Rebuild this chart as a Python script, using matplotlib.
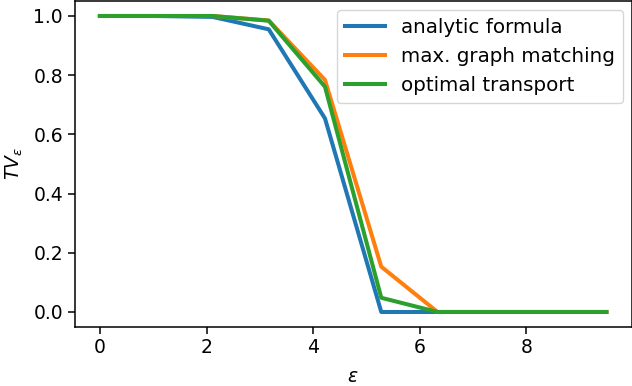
import numpy as np
import matplotlib
matplotlib.use("Agg")
import matplotlib.pyplot as plt

# epsilon grid and TV_eps estimates
eps = [0.0, 1.056, 2.111, 3.167, 4.222, 5.278, 6.333, 7.389, 8.444, 9.5]
analytic = [1.0, 1.0, 0.997, 0.955, 0.654, 0.0, 0.0, 0.0, 0.0, 0.0]
graph_matching = [1.0, 1.0, 1.0, 0.985, 0.784, 0.153, 0.0, 0.0, 0.0, 0.0]
optimal_transport = [1.0, 1.0, 1.0, 0.984, 0.761, 0.048, 0.0, 0.0, 0.0, 0.0]

plt.rcParams['font.size'] = 13.5

fig = plt.figure(figsize=(6.32, 3.86), dpi=100)
ax = fig.add_axes([0.118, 0.1534, 0.8815, 0.8435])

ax.plot(eps, analytic, color='#1f77b4', lw=2.9, label='analytic formula')
ax.plot(eps, graph_matching, color='#ff7f0e', lw=2.9, label='max. graph matching')
ax.plot(eps, optimal_transport, color='#2ca02c', lw=2.9, label='optimal transport')

ax.set_xticks([0, 2, 4, 6, 8])
ax.set_yticks([0.0, 0.2, 0.4, 0.6, 0.8, 1.0])
ax.set_xlabel(r'$\varepsilon$', labelpad=7)
ax.set_ylabel(r'$TV_\varepsilon$', labelpad=6)
for s in ax.spines.values():
    s.set_linewidth(1.1)
ax.tick_params(width=1.1, length=4.8)

ax.legend(loc='upper right', fontsize=14.3, handlelength=2.0, borderaxespad=0.45)

fig.savefig('out.png', dpi=100)
